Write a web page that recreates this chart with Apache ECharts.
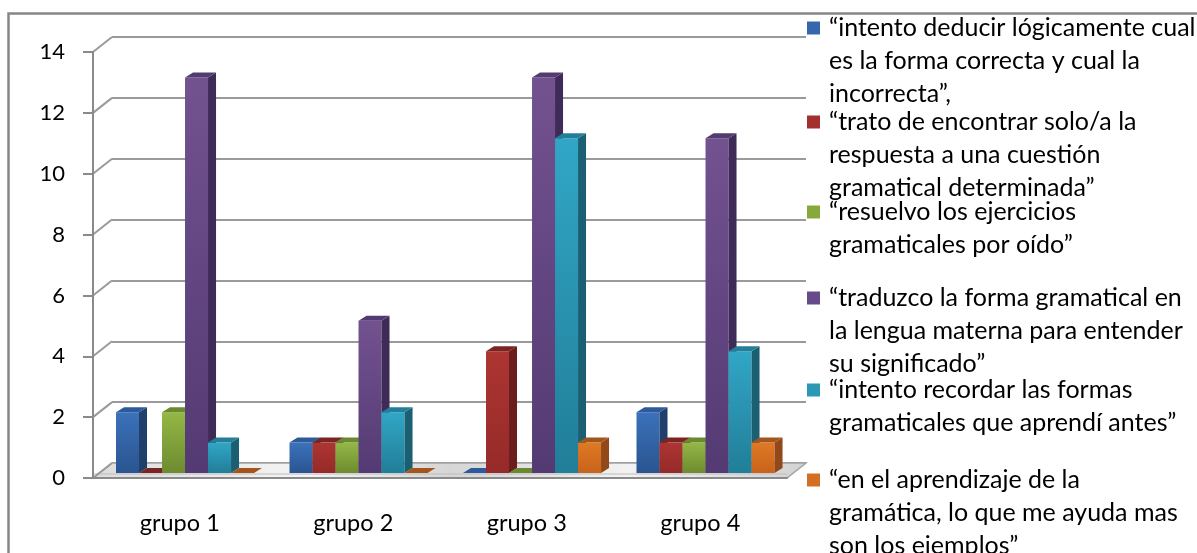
<!DOCTYPE html>
<html><head><meta charset="utf-8">
<script src="https://cdn.jsdelivr.net/npm/echarts@6/dist/echarts.min.js"></script>
<style>html,body{margin:0;padding:0;background:#fff}#c{width:1197px;height:553px}</style>
</head><body><div id="c"></div>
<script>
const categories = ['grupo 1', 'grupo 2', 'grupo 3', 'grupo 4'];
const seriesNames = [
  '“intento deducir lógicamente cual es la forma correcta y cual la incorrecta”,',
  '“trato de encontrar solo/a la respuesta a una cuestión gramatical determinada”',
  '“resuelvo los ejercicios gramaticales por oído”',
  '“traduzco la forma gramatical en la lengua materna para entender su significado”',
  '“intento recordar las formas gramaticales que aprendí antes”',
  '“en el aprendizaje de la gramática, lo que me ayuda mas son los ejemplos”'
];
const legendLines = [
  ['“intento deducir lógicamente cual', 'es la forma correcta y cual la', 'incorrecta”,'],
  ['“trato de encontrar solo/a la', 'respuesta a una cuestión', 'gramatical determinada”'],
  ['“resuelvo los ejercicios', 'gramaticales por oído”'],
  ['“traduzco la forma gramatical en', 'la lengua materna para entender', 'su significado”'],
  ['“intento recordar las formas', 'gramaticales que aprendí antes”'],
  ['“en el aprendizaje de la', 'gramática, lo que me ayuda mas', 'son los ejemplos”']
];
const deducir = [2, 1, 0, 2];
const trato = [0, 1, 4, 1];
const resuelvo = [2, 1, 0, 1];
const traduzco = [13, 5, 13, 11];
const recordar = [1, 2, 11, 4];
const ejemplos = [0, 0, 1, 1];
const yTicks = [0, 2, 4, 6, 8, 10, 12, 14];

const values = [deducir, trato, resuelvo, traduzco, recordar, ejemplos];
const FONT = 'Lato, "Open Sans", sans-serif';
const colors = [
  {front: ['#3b72ba', '#2a5490'], side: '#213f6b', top: '#2d5a9a', main: '#3567ad'},
  {front: ['#ad3532', '#952a28'], side: '#6a1d1c', top: '#7c2422', main: '#a3302e'},
  {front: ['#94b746', '#6d8b2f'], side: '#546d1f', top: '#6a8a30', main: '#86a83d'},
  {front: ['#72528f', '#543a73'], side: '#3f2b58', top: '#523b70', main: '#674a8a'},
  {front: ['#31a6c6', '#217e98'], side: '#1b5f73', top: '#237f99', main: '#2b98b6'},
  {front: ['#df7924', '#c7631b'], side: '#93481a', top: '#a4551c', main: '#d46f21'}
];
const BAR_START = 0.1326, BAR_W = 0.1326, PLANE_DY = -5, DEP_X = 8, DEP_Y = -5;
const WALL_X = 19, WALL_Y = -15;

function barSeries(k) {
  const c = colors[k];
  return {
    type: 'custom', name: seriesNames[k], z: 3 + k,
    itemStyle: {color: c.main},
    encode: {x: 0, y: 1},
    data: values[k].map((v, i) => [i, v]),
    renderItem(params, api) {
      const ci = api.value(0), v = api.value(1);
      const base = api.coord([ci, 0]);
      const tp = api.coord([ci, v]);
      const band = api.size([1, 0])[0];
      const bw = band * BAR_W;
      const x0 = base[0] - band / 2 + band * BAR_START + k * bw;
      const x1 = x0 + bw;
      const yb = base[1] + PLANE_DY, yt = tp[1] + PLANE_DY;
      const children = [];
      if (yb - yt > 0.5) {
        children.push({type: 'rect', shape: {x: x0, y: yt, width: bw, height: yb - yt},
          style: {fill: new echarts.graphic.LinearGradient(0, 0, 0, 1, [{offset: 0, color: c.front[0]}, {offset: 1, color: c.front[1]}])}});
        children.push({type: 'polygon', shape: {points: [[x1, yt], [x1 + DEP_X, yt + DEP_Y], [x1 + DEP_X, yb + DEP_Y], [x1, yb]]},
          style: {fill: c.side}});
      }
      children.push({type: 'polygon', shape: {points: [[x0, yt], [x0 + DEP_X, yt + DEP_Y], [x1 + DEP_X, yt + DEP_Y], [x1, yt]]},
        style: {fill: c.top}});
      return {type: 'group', children};
    }
  };
}

const floorSeries = {
  type: 'custom', name: 'floor', z: 1, silent: true,
  encode: {x: 0, y: 1},
  data: [[0, 0]],
  renderItem(params, api) {
    const cs = params.coordSys;
    const yb = api.coord([0, 0])[1];
    const xl = cs.x, xr = cs.x + cs.width;
    return {type: 'group', children: [
      {type: 'polygon', shape: {points: [[xl, yb], [xr, yb], [xr + WALL_X, yb + WALL_Y], [xl + WALL_X, yb + WALL_Y]]},
        style: {fill: new echarts.graphic.LinearGradient(0, 0, 1, 0, [
          {offset: 0, color: '#dcdcdc'}, {offset: 0.3, color: '#f4f4f4'}, {offset: 0.5, color: '#d6d6d6'},
          {offset: 0.75, color: '#f2f2f2'}, {offset: 1, color: '#d2d2d2'}]), stroke: '#a3a3a3', lineWidth: 1.5}},
      {type: 'line', shape: {x1: xl, y1: yb - 4, x2: xr, y2: yb - 4}, style: {stroke: '#bdbdbd', lineWidth: 1}}
    ]};
  }
};

const connectorSeries = {
  type: 'custom', name: 'wall', z: 1, silent: true,
  encode: {x: 0, y: 1},
  data: yTicks.map(v => [0, v]),
  renderItem(params, api) {
    const cs = params.coordSys;
    const y = api.coord([0, api.value(1)])[1];
    return {type: 'line', shape: {x1: cs.x, y1: y, x2: cs.x + WALL_X, y2: y + WALL_Y},
      style: {stroke: '#9a9a9a', lineWidth: 2}};
  }
};

// The legend text block is centred on its marker, so blank lines are put before the
// wrapped text to bring the first line level with the marker.
const markerCenters = [28, 122, 212, 298, 390, 480];
const LH = 33;
const legends = seriesNames.map((name, k) => {
  const n = legendLines[k].length;
  const text = new Array(n - 1).fill('').concat(legendLines[k]).join('\n');
  return {
    data: [name], orient: 'vertical', left: 807, top: markerCenters[k] - (2 * n - 1) * LH / 2, padding: 0,
    itemWidth: 13, itemHeight: 13, icon: 'rect',
    formatter: () => text,
    textStyle: {fontFamily: FONT, fontSize: 25, color: '#000', lineHeight: LH, padding: [0, 0, 0, 4]}
  };
});

const axisGray = '#8a8a8a';
const option = {
  animation: false,
  backgroundColor: '#fff',
  graphic: [{type: 'rect', left: 6, top: 11, z: -10, silent: true,
    shape: {width: 1300, height: 700}, style: {fill: 'none', stroke: '#878787', lineWidth: 2.5}}],
  legend: legends,
  grid: [
    {left: 93, top: 52, width: 694, height: 426},
    {left: 93 + WALL_X, top: 52 + WALL_Y, width: 694, height: 426}
  ],
  xAxis: [
    {type: 'category', gridIndex: 0, data: categories, z: 5,
      axisLine: {lineStyle: {color: axisGray, width: 2}},
      axisTick: {length: 10, lineStyle: {color: axisGray, width: 2}},
      axisLabel: {fontFamily: FONT, fontSize: 23.5, color: '#000', margin: 33, lineHeight: 24}},
    {type: 'category', gridIndex: 1, data: categories, show: false}
  ],
  yAxis: [
    {type: 'value', gridIndex: 0, min: 0, max: 14, interval: 2, z: 5,
      axisLine: {show: true, lineStyle: {color: axisGray, width: 2}},
      axisTick: {show: true, length: 10, lineStyle: {color: axisGray, width: 2}},
      axisLabel: {fontFamily: FONT, fontSize: 22, color: '#000', margin: 28},
      splitLine: {show: false}},
    {type: 'value', gridIndex: 1, min: 0, max: 14, interval: 2,
      axisLine: {show: false}, axisTick: {show: false}, axisLabel: {show: false},
      splitLine: {show: true, lineStyle: {color: '#9a9a9a', width: 2}}}
  ],
  series: [floorSeries, connectorSeries].concat(seriesNames.map((n, k) => barSeries(k)))
};
const chart = echarts.init(document.getElementById('c'), null, {renderer: 'canvas'});
chart.setOption(option);
</script>
</body></html>
